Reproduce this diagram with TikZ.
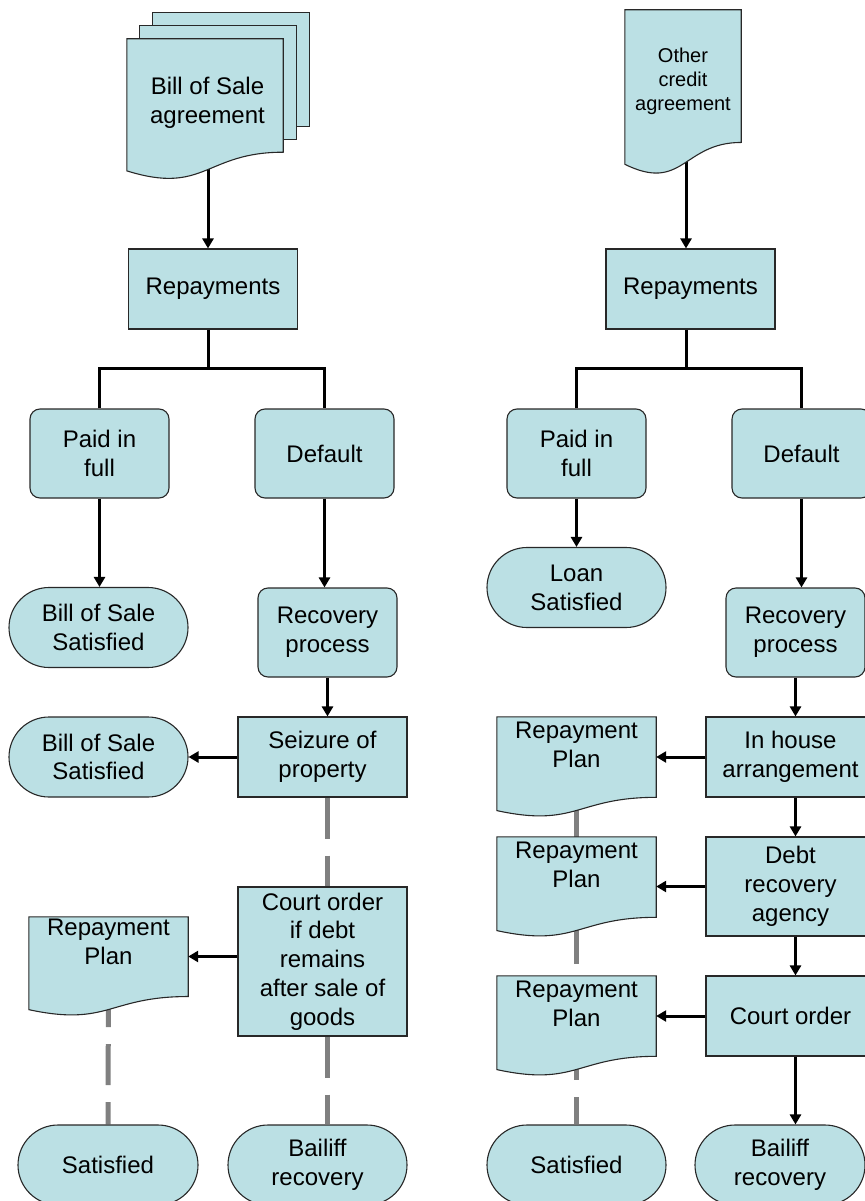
\documentclass[tikz,border=0pt]{standalone}
\usepackage{fontspec}
\setmainfont{Liberation Sans}
\usetikzlibrary{arrows.meta,calc,backgrounds}

\definecolor{boxfill}{RGB}{187,224,228}
\definecolor{boxline}{RGB}{40,40,40}
\definecolor{dashgray}{RGB}{128,128,128}

\tikzset{
  txt/.style={font=\fontsize{24}{28.8}\selectfont, align=center},
  small/.style={font=\fontsize{20}{24}\selectfont},
  box/.style={draw=boxline, fill=boxfill, line width=1.1pt},
  proc/.style={txt, box, minimum width=169pt, minimum height=80pt, inner sep=2pt},
  rproc/.style={proc, rounded corners=10pt, minimum width=139pt, minimum height=89pt},
  term/.style={proc, rounded corners=40pt, minimum width=179pt},
  doc/.style={inner sep=0pt},
  link/.style={line width=3pt},
  arr/.style={link, -{Triangle[length=10pt,width=11pt]}},
  dashline/.style={draw=dashgray, line width=5pt, dash pattern=on 41pt off 17pt}
}

% document outline with wavy bottom
\newcommand{\docshape}[1]{%
  \filldraw[box] (#1.north west) -- (#1.north east)
    -- ($(#1.north east)!0.802!(#1.south east)$)
    .. controls ($(#1.north)!0.802!(#1.south)$) and ($(#1.north)!1.107!(#1.south)$)
    .. ($(#1.north west)!0.934!(#1.south west)$) -- cycle;}

\begin{document}
\begin{tikzpicture}[x=1pt,y=-1pt]
\useasboundingbox (0,0) rectangle (864,1201);

% left: bill of sale
\node[doc, minimum width=156pt, minimum height=141pt] (bos) at (205,109.5) {};
\node[txt] (bosT) at ([xshift=2.5pt,yshift=6.5pt]bos.center) {Bill of Sale\\agreement};
\node[proc] (repL) at (213,289) {Repayments};
\coordinate (jL) at (208,368);
\node[rproc] (paidL) at (99.5,453.5) {Paid in\\full};
\node[rproc] (defL) at (324.5,453.5) {Default};
\node[term] (bosSatA) at (98.5,627.5) {Bill of Sale\\Satisfied};
\node[rproc] (recL) at (327.5,632.5) {Recovery\\process};
\node[proc] (seize) at (322.5,757) {Seizure of\\property};
\node[term] (bosSatB) at (98.5,757) {Bill of Sale\\Satisfied};
\node[proc, minimum height=149pt] (courtL) at (322.5,961.5) {Court order\\if debt\\remains\\after sale of\\goods};
\node[doc, minimum width=159pt, minimum height=99pt] (rpL) at (108.5,966.5) {};
\node[txt] (rpLT) at ([yshift=24.5pt]rpL.center) {Repayment\\Plan};
\node[term, minimum width=180pt] (satL) at (108,1165) {Satisfied};
\node[term] (bailL) at (317.5,1165) {Bailiff\\recovery};

% right: other credit
\node[doc, minimum width=116pt, minimum height=165pt] (other) at (683,92.5) {};
\node[txt, small] (otherT) at ([yshift=10.8pt]other.center) {Other\\credit\\agreement};
\node[proc] (repR) at (690.5,289) {Repayments};
\coordinate (jR) at (686,368);
\node[rproc] (paidR) at (576.5,453.5) {Paid in\\full};
\node[rproc] (defR) at (801.5,453.5) {Default};
\node[term] (loanSat) at (576.5,587.5) {Loan\\Satisfied};
\node[rproc] (recR) at (795.5,632.5) {Recovery\\process};
\node[proc] (inh) at (790.5,757) {In house\\arrangement};
\node[proc, minimum height=99pt] (debt) at (790.5,886.5) {Debt\\recovery\\agency};
\node[proc] (courtR) at (790.5,1016) {Court order};
\node[doc, minimum width=159pt, minimum height=100pt] (rpB) at (576.5,767) {};
\node[txt] (rpBT) at ([yshift=22.5pt]rpB.center) {Repayment\\Plan};
\node[doc, minimum width=159pt, minimum height=100pt] (rpC) at (576.5,887) {};
\node[txt] (rpCT) at ([yshift=22.5pt]rpC.center) {Repayment\\Plan};
\node[doc, minimum width=159pt, minimum height=100pt] (rpD) at (576.5,1026) {};
\node[txt] (rpDT) at ([yshift=22.5pt]rpD.center) {Repayment\\Plan};
\node[term] (satR) at (576.5,1165) {Satisfied};
\node[term, minimum width=170pt] (bailR) at (780,1165) {Bailiff\\recovery};

% left connectors
\draw[link] (repL.south -| jL) -- (jL);
\draw[link] (paidL.north) |- (jL) -| (defL.north);
\draw[arr] (paidL.south) -- (paidL.south |- bosSatA.north);
\draw[arr] (defL.south) -- (defL.south |- recL.north);
\draw[arr] (recL.south) -- (recL.south |- seize.north);
\draw[arr] (seize.west) -- (bosSatB.east);
\draw[dashline] (recL.south |- seize.south) -- (recL.south |- courtL.north);
\draw[arr] ([yshift=5pt]courtL.west) -- ([yshift=5pt]courtL.west -| rpL.east);
\draw[dashline] (recL.south |- courtL.south) -- (recL.south |- bailL.north);

% right connectors
\draw[link] (repR.south -| jR) -- (jR);
\draw[link] (paidR.north) |- (jR) -| (defR.north);
\draw[arr] (paidR.south) -- (paidR.south |- loanSat.north);
\draw[arr] (defR.south) -- (defR.south |- recR.north);
\draw[arr] (recR.south) -- (recR.south |- inh.north);
\draw[arr] (recR.south |- inh.south) -- (recR.south |- debt.north);
\draw[arr] (recR.south |- debt.south) -- (recR.south |- courtR.north);
\draw[arr] (recR.south |- courtR.south) -- (recR.south |- bailR.north);
\draw[arr] (inh.west) -- (inh.west -| rpB.east);
\draw[arr] (debt.west) -- (debt.west -| rpC.east);
\draw[arr] (courtR.west) -- (courtR.west -| rpD.east);

\begin{scope}[on background layer]
  \draw[arr] (bos.center -| jL) -- (repL.north -| jL);
  \draw[arr] (other.center -| jR) -- (repR.north -| jR);
  \draw[dashline, dash phase=38.5pt] (rpL.center) -- (satL.north);
  \draw[dashline, dash phase=18pt] (rpB.center) -- (rpC.center) -- (rpD.center) -- (satR.north);
  % sheets behind the front page
  \foreach \s in {26,13}
    \filldraw[box] ($(bos.north west)+(\s,-\s)$) rectangle ($(bos.north east)!0.802!(bos.south east)+(\s,-\s)$);
  \foreach \n in {bos,other,rpL,rpB,rpC,rpD}
    \docshape{\n};
\end{scope}
\end{tikzpicture}
\end{document}
